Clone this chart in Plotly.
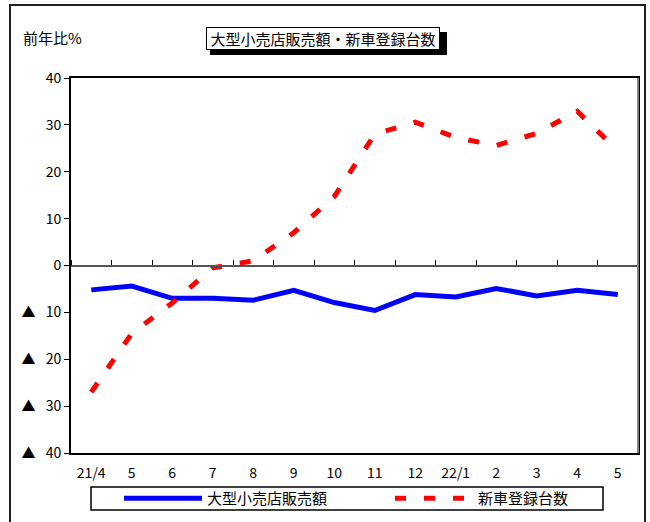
import plotly.graph_objects as go

categories = ["21/4", "5", "6", "7", "8", "9", "10", "11", "12", "22/1", "2", "3", "4", "5"]
retail_sales = [-5.2, -4.4, -7.0, -7.0, -7.4, -5.3, -7.9, -9.6, -6.2, -6.7, -4.9, -6.5, -5.3, -6.2]
new_car_reg = [-27.0, -14.5, -8.0, -0.5, 1.0, 7.0, 14.7, 28.0, 30.6, 27.3, 25.6, 28.2, 32.9, 24.5]
y_tickvals = [40, 30, 20, 10, 0, -10, -20, -30, -40]
y_ticktext = ["40", "30", "20", "10", "0", "▲\u2002 10", "▲\u2002 20", "▲\u2002 30", "▲\u2002 40"]
series_names = ["大型小売店販売額", "新車登録台数"]
title_text = "大型小売店販売額・新車登録台数"
ylabel_text = "前年比%"

FONT = "Noto Sans CJK JP"
W, H = 650, 522
L, R, T, B = 71, 12, 78, 69
pw, ph = W - L - R, H - T - B

def px(x):
    return (x - L) / pw

def py(y):
    return (H - B - y) / ph

xs = list(range(len(categories)))

fig = go.Figure()
fig.add_trace(go.Scatter(x=xs, y=retail_sales, mode="lines", name=series_names[0],
                         line=dict(color="#0000FF", width=5), legend="legend"))
fig.add_trace(go.Scatter(x=xs, y=new_car_reg, mode="lines", name=series_names[1],
                         line=dict(color="#FF0000", width=5, dash="11px,18px"), legend="legend2"))
# helper trace for zero-line axis
fig.add_trace(go.Scatter(x=[0], y=[None], xaxis="x2", showlegend=False, hoverinfo="skip"))

leg_common = dict(orientation="h", xref="container", yref="container",
                  xanchor="left", yanchor="top", itemwidth=78,
                  font=dict(family=FONT, size=15),
                  bgcolor="rgba(0,0,0,0)", borderwidth=0)

fig.update_layout(
    width=W, height=H,
    margin=dict(l=L, r=R, t=T, b=B, autoexpand=False),
    paper_bgcolor="white", plot_bgcolor="white",
    font=dict(family=FONT, size=13, color="black"),
    showlegend=True,
    legend=dict(x=119 / W, y=1 - 482 / H, **leg_common),
    legend2=dict(x=390 / W, y=1 - 482 / H, **leg_common),
    xaxis=dict(range=[-0.5, len(categories) - 0.5], tickvals=xs, ticktext=categories,
               showline=True, linecolor="black", linewidth=2, mirror=True,
               ticks="", showgrid=False, zeroline=False, ticklabelstandoff=6,
               tickfont=dict(family=FONT, size=14)),
    xaxis2=dict(overlaying="x", anchor="free", position=0.5, side="top",
                range=[-0.5, len(categories) - 0.5],
                tickvals=[i - 0.5 for i in range(len(categories) + 1)],
                ticks="outside", ticklen=5, tickcolor="black", tickwidth=1,
                showticklabels=False, showline=True, linecolor="#555555", linewidth=1.5,
                showgrid=False, zeroline=False),
    yaxis=dict(range=[-40, 40], tickvals=y_tickvals, ticktext=y_ticktext,
               showline=True, linecolor="black", linewidth=2, mirror=True,
               ticks="outside", ticklen=5, tickcolor="black",
               showgrid=False, zeroline=False,
               tickfont=dict(family=FONT, size=14)),
)

shapes = [
    # outer chart frame
    dict(type="rect", xref="paper", yref="paper", x0=px(10), x1=px(645), y0=py(540), y1=py(5),
         line=dict(color="#222222", width=2), fillcolor="rgba(0,0,0,0)", layer="below"),
    # grey right border of plot area
    dict(type="line", xref="paper", yref="paper", x0=1, x1=1, y0=0, y1=1,
         line=dict(color="#808080", width=2)),
    # legend box
    dict(type="rect", xref="paper", yref="paper", x0=px(91), x1=px(603), y0=py(510), y1=py(487),
         line=dict(color="black", width=1.5), fillcolor="rgba(0,0,0,0)"),
    # title shadow
    dict(type="rect", xref="paper", yref="paper", x0=px(210), x1=px(447), y0=py(55), y1=py(32),
         line=dict(color="black", width=0), fillcolor="black"),
]
fig.update_layout(shapes=shapes)

fig.add_annotation(text=title_text, xref="paper", yref="paper", x=px(323), y=py(38.5),
                   xanchor="center", yanchor="middle", showarrow=False,
                   font=dict(family=FONT, size=15, color="black"),
                   width=230, height=19,
                   bgcolor="white", bordercolor="black", borderwidth=1, borderpad=1)
fig.add_annotation(text=ylabel_text, xref="paper", yref="paper", x=px(21), y=py(37),
                   xanchor="left", yanchor="middle", showarrow=False,
                   font=dict(family=FONT, size=15, color="black"))

fig.write_html("out.html", config={"displayModeBar": False},
               post_script="document.body.style.margin='0';")
